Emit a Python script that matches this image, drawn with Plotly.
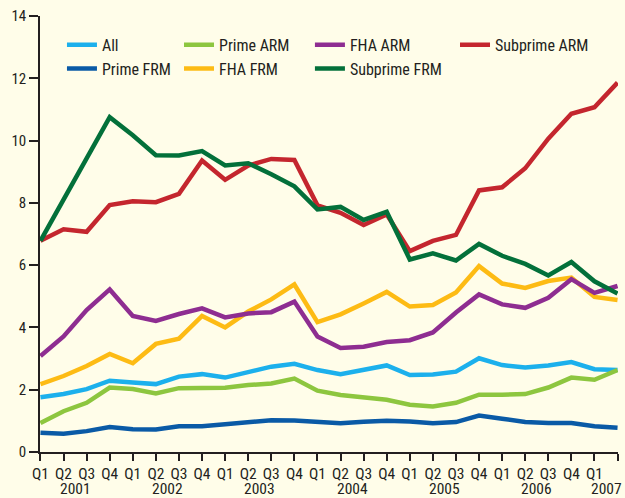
import plotly.graph_objects as go

quarters = ["Q1", "Q2", "Q3", "Q4"] * 6 + ["Q1", "Q2"]
years = ["2001", "2002", "2003", "2004", "2005", "2006", "2007"]
year_pos = [1.5, 5.5, 9.5, 13.5, 17.5, 21.5, 24.5]

all_loans = [1.76, 1.86, 2.02, 2.29, 2.23, 2.18, 2.42, 2.50, 2.39, 2.58, 2.74, 2.83,
             2.63, 2.50, 2.63, 2.78, 2.47, 2.49, 2.58, 3.01, 2.79, 2.71, 2.78, 2.89, 2.66, 2.63]
prime_frm = [0.62, 0.59, 0.67, 0.80, 0.73, 0.72, 0.83, 0.83, 0.89, 0.96, 1.02, 1.01,
             0.96, 0.92, 0.97, 1.00, 0.98, 0.92, 0.96, 1.17, 1.07, 0.96, 0.93, 0.93, 0.83, 0.78]
prime_arm = [0.93, 1.31, 1.58, 2.07, 2.02, 1.88, 2.05, 2.04, 2.06, 2.15, 2.20, 2.36,
             1.97, 1.83, 1.76, 1.68, 1.52, 1.46, 1.58, 1.84, 1.84, 1.86, 2.07, 2.39, 2.32, 2.63]
fha_frm = [2.18, 2.44, 2.76, 3.15, 2.85, 3.47, 3.64, 4.37, 4.00, 4.51, 4.90, 5.38,
           4.17, 4.42, 4.77, 5.14, 4.67, 4.72, 5.12, 5.97, 5.41, 5.27, 5.49, 5.60, 4.98, 4.88]
fha_arm = [3.08, 3.71, 4.56, 5.22, 4.37, 4.21, 4.43, 4.61, 4.32, 4.45, 4.49, 4.83,
           3.71, 3.34, 3.38, 3.53, 3.59, 3.84, 4.48, 5.06, 4.74, 4.63, 4.95, 5.55, 5.11, 5.33]
subprime_arm = [6.78, 7.15, 7.07, 7.93, 8.05, 8.02, 8.29, 9.36, 8.74, 9.20, 9.41, 9.38,
                7.92, 7.68, 7.29, 7.63, 6.45, 6.78, 6.97, 8.40, 8.50, 9.11, 10.06, 10.86, 11.07, 11.86]
subprime_frm = [6.78, 8.12, 9.45, 10.75, 10.17, 9.53, 9.52, 9.66, 9.20, 9.27, 8.92, 8.53,
                7.79, 7.87, 7.45, 7.71, 6.18, 6.38, 6.15, 6.68, 6.30, 6.04, 5.67, 6.10, 5.48, 5.09]

x = list(range(len(quarters)))

FONT = ("Noto Sans Condensed, Noto Sans ExtraCondensed, Roboto Condensed, "
        "Open Sans Condensed, DejaVu Sans Condensed, sans-serif")
TXT = "#231F20"
BG = "#FFFDE9"

series = [
    ("All", all_loans, "#1CB0EC", "legend"),
    ("Prime FRM", prime_frm, "#0A5AA6", "legend"),
    ("Prime ARM", prime_arm, "#8DC63F", "legend2"),
    ("FHA FRM", fha_frm, "#FDBB14", "legend2"),
    ("FHA ARM", fha_arm, "#8E2D91", "legend3"),
    ("Subprime ARM", subprime_arm, "#C4262E", "legend4"),
    ("Subprime FRM", subprime_frm, "#03703A", "legend3"),
]

fig = go.Figure()
for name, vals, color, lg in series:
    fig.add_trace(go.Scatter(x=x, y=vals, mode="lines", name=name,
                             line=dict(color=color, width=4.5), legend=lg))

def legend_at(xp):
    return dict(x=xp, y=0.973, xanchor="left", yanchor="top", bgcolor="rgba(0,0,0,0)",
                font=dict(family=FONT, size=16, color=TXT), tracegroupgap=0,
                itemwidth=30)

for i, yr in enumerate(years):
    fig.add_annotation(x=year_pos[i], y=0, xref="x", yref="paper", text=yr,
                       showarrow=False, yanchor="middle", yshift=-37,
                       font=dict(family=FONT, size=15.5, color=TXT))

fig.update_layout(
    width=625, height=498,
    margin=dict(l=40, r=7, t=11, b=46),
    paper_bgcolor=BG, plot_bgcolor=BG,
    font=dict(family=FONT, size=16, color=TXT),
    legend=legend_at(0.038),
    legend2=legend_at(0.2405),
    legend3=legend_at(0.467),
    legend4=legend_at(0.718),
    xaxis=dict(range=[-0.02, 25.02], tickvals=x, ticktext=quarters, showgrid=False,
               zeroline=False, showline=True, linecolor=TXT, linewidth=1.5,
               ticks="outside", ticklen=7, tickwidth=1.5, tickcolor=TXT,
               tickfont=dict(family=FONT, size=15.5, color=TXT)),
    yaxis=dict(range=[0, 14], dtick=2, showgrid=False, zeroline=False,
               showline=True, linecolor=TXT, linewidth=1.5,
               ticks="outside", ticklen=9, tickwidth=1.5, tickcolor=TXT,
               tickfont=dict(family=FONT, size=15, color=TXT)),
)

fig.write_html(
    "out.html",
    config={"displayModeBar": False},
    post_script="document.body.style.margin='0px';document.body.style.background='%s';" % BG,
)
